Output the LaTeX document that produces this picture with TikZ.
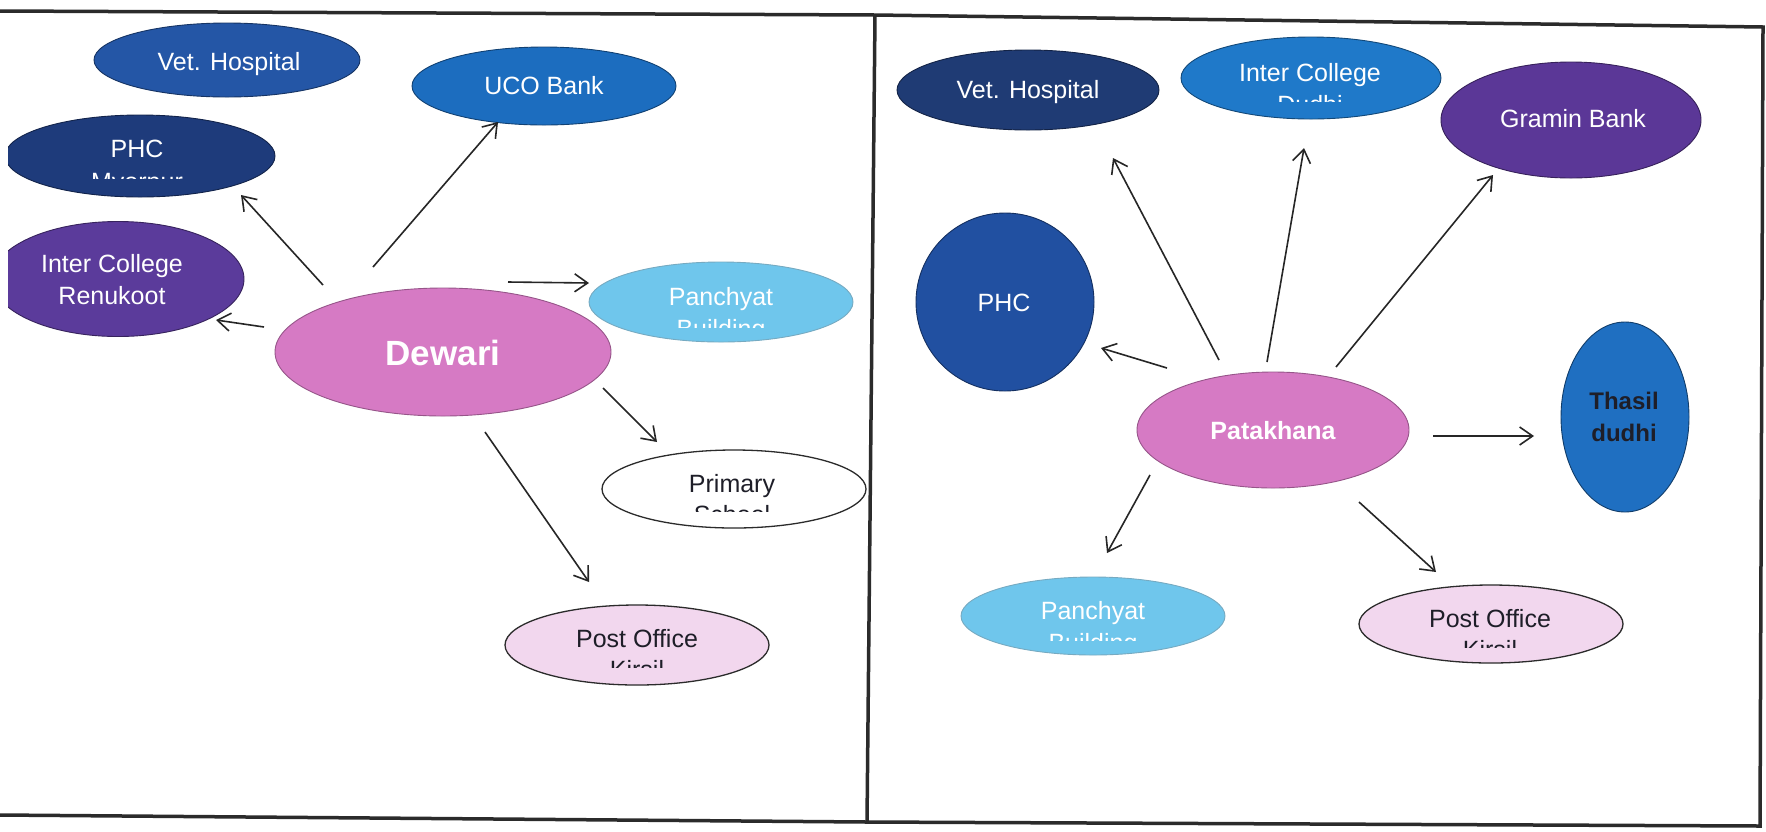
\documentclass[tikz,border=0pt]{standalone}
\usepackage{fontspec}
\setmainfont{Liberation Sans}
\usetikzlibrary{arrows.meta,shapes.geometric}

\definecolor{frameline}{HTML}{2B2B2B}
\definecolor{cVetL}{HTML}{2456A6}
\definecolor{cUco}{HTML}{1C6DBF}
\definecolor{cPhcL}{HTML}{1E3B7B}
\definecolor{cPurple}{HTML}{5B3B9B}
\definecolor{cPink}{HTML}{D67AC4}
\definecolor{cSky}{HTML}{6FC6EC}
\definecolor{cLilac}{HTML}{F2D7EE}
\definecolor{cNavy}{HTML}{1F3B74}
\definecolor{cCollege}{HTML}{1F79C9}
\definecolor{cGramin}{HTML}{5B3797}
\definecolor{cPhcR}{HTML}{2150A1}
\definecolor{cThasil}{HTML}{1F6FC1}
\definecolor{darktext}{HTML}{1E1E28}

\begin{document}
\begin{tikzpicture}[x=1pt,y=-1pt,
  bub/.style={ellipse, inner sep=0pt, line width=0.9pt},
  lbl/.style={anchor=base, inner sep=0pt, text=white,
              font=\fontsize{25}{30}\selectfont},
  hub/.style={anchor=base, inner sep=0pt, text=white,
              font=\bfseries\fontsize{25}{30}\selectfont},
  arr/.style={-{Straight Barb[length=13pt,width=18pt]}, line width=1.6pt,
              draw=black!85},
  border/.style={draw=frameline, line width=3.5pt}]

\useasboundingbox (0,0) rectangle (1766,831);
\fill[white] (0,0) rectangle (1766,831);

% ---------------- Dewari panel ----------------
\begin{scope}
  \clip (8,0) rectangle (871,831);
  \node[bub, fill=cVetL, draw=cVetL!60!black, minimum width=266pt, minimum height=74pt] (vetL) at (227,60) {};
  \node[bub, fill=cUco, draw=cUco!60!black, minimum width=264pt, minimum height=78pt] (uco) at (544,86) {};
  \node[bub, fill=cPhcL, draw=cPhcL!60!black, minimum width=270pt, minimum height=82pt] (phcL) at (140,156) {};
  \node[bub, fill=cPurple, draw=cPurple!60!black, minimum width=252pt, minimum height=115pt] (icR) at (118,279) {};
  \node[bub, fill=cPink, draw=cPink!70!black, minimum width=336pt, minimum height=128pt] (dewari) at (443,352) {};
  \node[bub, fill=cSky, draw=cSky!60!gray, minimum width=264pt, minimum height=80pt] (panL) at (721,302) {};
  \node[bub, fill=white, draw=frameline, line width=1.3pt, minimum width=264pt, minimum height=78pt] (prim) at (734,489) {};
  \node[bub, fill=cLilac, draw=frameline, line width=1.3pt, minimum width=264pt, minimum height=80pt] (postL) at (637,645) {};
\end{scope}

\node[lbl] (vetLt) at (229,70) {Vet. Hospital};
\node[lbl] (ucot) at (544,94) {UCO Bank};
\node[lbl] (phcLt) at (137,157) {PHC};
\node[lbl] (icRa) at (112,272) {Inter College};
\node[lbl] (icRb) at (112,304) {Renukoot};
\node[hub, font=\bfseries\fontsize{35}{40}\selectfont] (dewarit) at (443,365) {Dewari};
\node[lbl] (panLt) at (721,305) {Panchyat};
\node[lbl, text=darktext] (primt) at (732,492) {Primary};
\node[lbl, text=darktext] (postLt) at (637,647) {Post Office};

% second lines that are cut off just below their tops
\begin{scope}
  \clip (0,0) rectangle (871,178);
  \node[lbl] (phcLu) at (137,190) {Myorpur};
\end{scope}
\begin{scope}
  \clip (590,250) rectangle (860,327);
  \node[lbl] (panLu) at (721,337) {Building};
\end{scope}
\begin{scope}
  \clip (600,450) rectangle (866,511);
  \node[lbl, text=darktext] (primu) at (732,523) {School};
\end{scope}
\begin{scope}
  \clip (505,600) rectangle (770,667);
  \node[lbl, text=darktext] (postLu) at (637,678) {Kirsil};
\end{scope}

\draw[arr] ([shift={(-120,-67)}]dewari.center) -- ([shift={(101,39)}]phcL.center);
\draw[arr] ([shift={(-70,-85)}]dewari.center) -- ([shift={(-46,36)}]uco.center);
\draw[arr] ([shift={(-179,-25)}]dewari.center) -- ([shift={(98,41)}]icR.center);
\draw[arr] ([shift={(65,-70)}]dewari.center) -- ([shift={(-132,-19)}]panL.center);
\draw[arr] ([shift={(160,36)}]dewari.center) -- ([shift={(-77,-47)}]prim.center);
\draw[arr] ([shift={(42,80)}]dewari.center) -- ([shift={(-48,-63)}]postL.center);

% ---------------- Patakhana panel ----------------
\node[bub, fill=cNavy, draw=cNavy!60!black, minimum width=262pt, minimum height=80pt] (vetR) at (1028,90) {};
\node[bub, fill=cCollege, draw=cCollege!60!black, minimum width=260pt, minimum height=82pt] (icollR) at (1311,78) {};
\node[bub, fill=cGramin, draw=cGramin!60!black, minimum width=260pt, minimum height=116pt] (gramin) at (1571,120) {};
\node[bub, fill=cPhcR, draw=cPhcR!60!black, minimum width=178pt, minimum height=178pt] (phcR) at (1005,302) {};
\node[bub, fill=cThasil, draw=cThasil!55!black, minimum width=128pt, minimum height=190pt] (thasil) at (1625,417) {};
\node[bub, fill=cPink, draw=cPink!70!black, minimum width=272pt, minimum height=116pt] (patak) at (1273,430) {};
\node[bub, fill=cSky, draw=cSky!60!gray, minimum width=264pt, minimum height=78pt] (panR) at (1093,616) {};
\node[bub, fill=cLilac, draw=frameline, line width=1.3pt, minimum width=264pt, minimum height=78pt] (postR) at (1491,624) {};

\node[lbl] (vetRt) at (1028,98) {Vet. Hospital};
\node[lbl] (icollRt) at (1310,81) {Inter College};
\node[lbl] (gramint) at (1573,127) {Gramin Bank};
\node[lbl] (phcRt) at (1004,311) {PHC};
\node[hub] (patakt) at (1273,439) {Patakhana};
\node[lbl, text=darktext, font=\bfseries\fontsize{24}{30}\selectfont] (thasila) at (1624,409) {Thasil};
\node[lbl, text=darktext, font=\bfseries\fontsize{24}{30}\selectfont] (thasilb) at (1624,441) {dudhi};
\node[lbl] (panRt) at (1093,619) {Panchyat};
\node[lbl, text=darktext] (postRt) at (1490,627) {Post Office};

\begin{scope}
  \clip (1180,40) rectangle (1440,101);
  \node[lbl] (icollRu) at (1310,113) {Dudhi};
\end{scope}
\begin{scope}
  \clip (960,580) rectangle (1225,640);
  \node[lbl] (panRu) at (1093,651) {Building};
\end{scope}
\begin{scope}
  \clip (1360,590) rectangle (1622,647);
  \node[lbl, text=darktext] (postRu) at (1490,658) {Kirsil};
\end{scope}

\draw[arr] ([shift={(-54,-70)}]patak.center) -- ([shift={(85,68)}]vetR.center);
\draw[arr] ([shift={(-6,-68)}]patak.center) -- ([shift={(-7,70)}]icollR.center);
\draw[arr] ([shift={(63,-63)}]patak.center) -- ([shift={(-78,55)}]gramin.center);
\draw[arr] ([shift={(-106,-62)}]patak.center) -- ([shift={(96,46)}]phcR.center);
\draw[arr] ([shift={(160,6)}]patak.center) -- ([shift={(-91,19)}]thasil.center);
\draw[arr] ([shift={(-123,45)}]patak.center) -- ([shift={(14,-63)}]panR.center);
\draw[arr] ([shift={(86,72)}]patak.center) -- ([shift={(-55,-52)}]postR.center);

% ---------------- frame ----------------
\coordinate (tl) at (0,11);
\coordinate (tm) at (875,15);
\coordinate (tr) at (1763,27);
\coordinate (bl) at (0,815);
\coordinate (bm) at (867,822);
\coordinate (br) at (1760,826);
\draw[border] (tl) -- (tm) -- (tr) -- (br) -- (bm) -- (bl);
\draw[border] (tm) -- (bm);
\end{tikzpicture}
\end{document}
